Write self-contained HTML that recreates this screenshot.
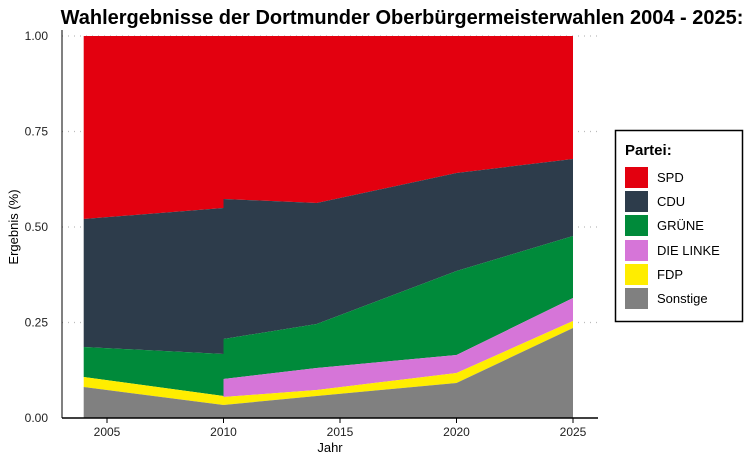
<!DOCTYPE html>
<html><head><meta charset="utf-8"><style>
body{margin:0;background:#fff;}
svg text{font-family:"Liberation Sans",sans-serif;}
</style></head><body>
<svg width="751" height="463" viewBox="0 0 751 463" xmlns="http://www.w3.org/2000/svg">
<rect width="751" height="463" fill="#fff"/>
<g stroke="#bbb" stroke-dasharray="1,5" stroke-width="1.2">
<line x1="62" x2="598" y1="36" y2="36"/><line x1="62" x2="598" y1="131.5" y2="131.5"/>
<line x1="62" x2="598" y1="227" y2="227"/><line x1="62" x2="598" y1="322.5" y2="322.5"/>
</g>
<polygon fill="#e3000f" points="83.7,36 573,36 573,159 456.5,173 316.7,203 223.5,199 223.5,208 83.7,219"/>
<polygon fill="#2d3c4b" points="83.7,219 223.5,208 223.5,199 316.7,203 456.5,173 573,159 573,236 456.5,271 316.7,324 223.5,339 223.5,354 83.7,347"/>
<polygon fill="#008a3a" points="83.7,347 223.5,354 223.5,339 316.7,324 456.5,271 573,236 573,298 456.5,355 316.7,368 223.5,379 223.5,396 83.7,377"/>
<polygon fill="#d675d8" points="223.5,379 316.7,368 456.5,355 573,298 573,321 456.5,373 316.7,390 223.5,397"/>
<polygon fill="#ffed00" points="83.7,377 223.5,396 223.5,397 316.7,390 456.5,373 573,321 573,328 456.5,383 316.7,396 223.5,405 83.7,387"/>
<polygon fill="#808080" points="83.7,387 223.5,405 316.7,396 456.5,383 573,328 573,418 83.7,418"/>
<line x1="62" y1="30" x2="62" y2="418" stroke="#000" stroke-width="1"/>
<line x1="62" y1="418" x2="598" y2="418" stroke="#000" stroke-width="1.5"/>
<g stroke="#000" stroke-width="1">
<line x1="107" x2="107" y1="418" y2="423"/><line x1="223.5" x2="223.5" y1="418" y2="423"/>
<line x1="340" x2="340" y1="418" y2="423"/><line x1="456.5" x2="456.5" y1="418" y2="423"/>
<line x1="573" x2="573" y1="418" y2="423"/>
</g>
<g font-size="12" fill="#222" text-anchor="end">
<text x="48" y="40">1.00</text><text x="48" y="135.5">0.75</text><text x="48" y="231">0.50</text>
<text x="48" y="326.5">0.25</text><text x="48" y="422">0.00</text>
</g>
<g font-size="12" fill="#222" text-anchor="middle">
<text x="107" y="436">2005</text><text x="223.5" y="436">2010</text><text x="340" y="436">2015</text>
<text x="456.5" y="436">2020</text><text x="573" y="436">2025</text>
</g>
<text x="330" y="452" font-size="13" text-anchor="middle">Jahr</text>
<text transform="translate(18,227) rotate(-90)" font-size="13" text-anchor="middle">Ergebnis (%)</text>
<text x="402" y="24" font-size="20" font-weight="bold" text-anchor="middle">Wahlergebnisse der Dortmunder Oberbürgermeisterwahlen 2004 - 2025:</text>
<rect x="615.5" y="130.5" width="127" height="191" fill="#fff" stroke="#000" stroke-width="1.5"/>
<text x="625" y="155" font-size="15" font-weight="bold">Partei:</text>
<g font-size="13">
<rect x="625" y="167" width="23" height="21" fill="#e3000f"/><text x="657" y="182">SPD</text>
<rect x="625" y="191" width="23" height="21" fill="#2d3c4b"/><text x="657" y="206">CDU</text>
<rect x="625" y="215" width="23" height="21" fill="#008a3a"/><text x="657" y="230">GRÜNE</text>
<rect x="625" y="240" width="23" height="21" fill="#d675d8"/><text x="657" y="255">DIE LINKE</text>
<rect x="625" y="264" width="23" height="21" fill="#ffed00"/><text x="657" y="279">FDP</text>
<rect x="625" y="288" width="23" height="21" fill="#808080"/><text x="657" y="303">Sonstige</text>
</g>
</svg>
</body></html>
